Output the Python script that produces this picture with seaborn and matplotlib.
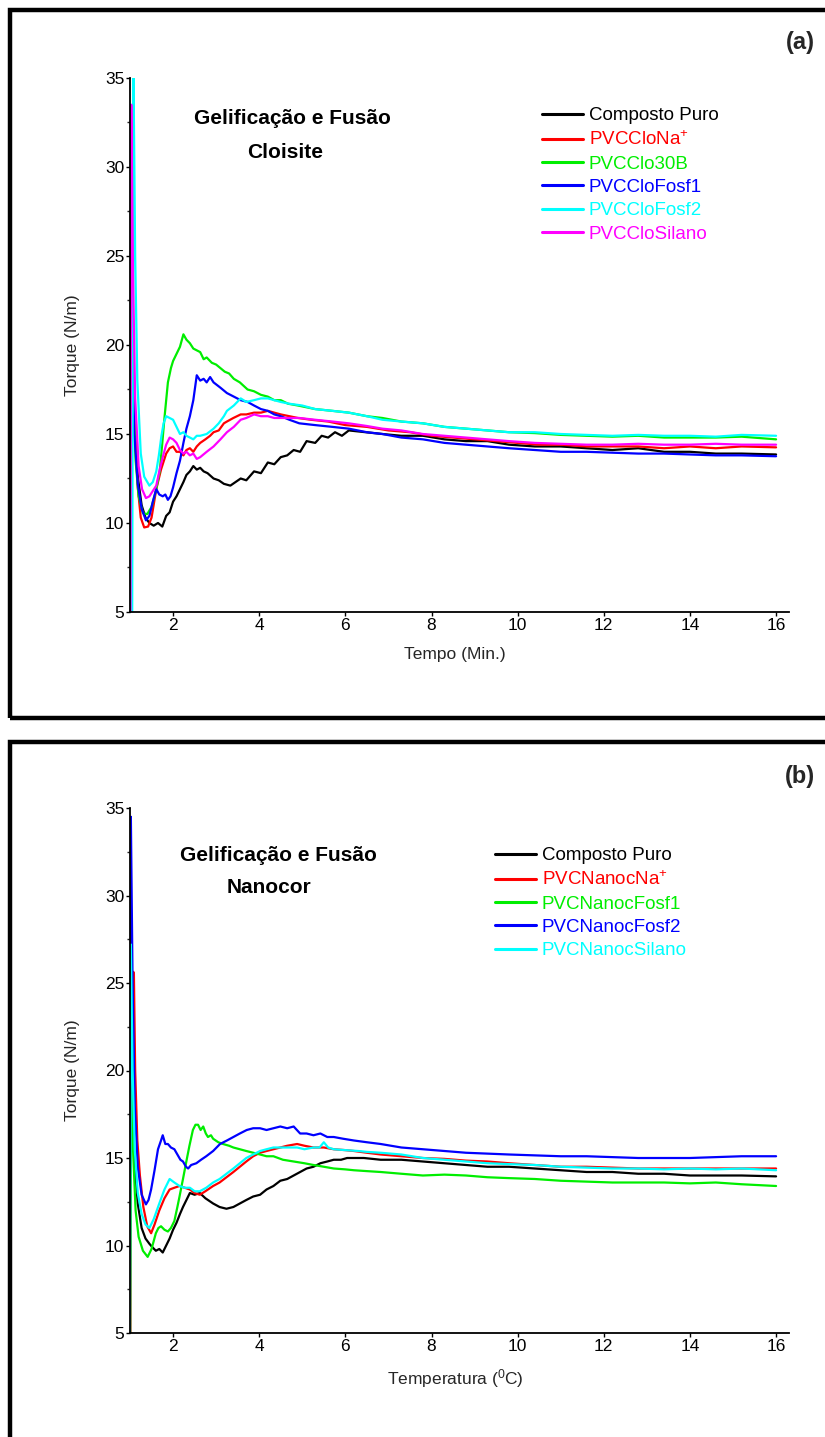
import matplotlib
matplotlib.use("Agg")
import matplotlib.pyplot as plt
import seaborn as sns
import pandas as pd
from matplotlib.patches import Rectangle
from matplotlib.ticker import MultipleLocator

sns.set_style("white")
plt.rcParams["font.family"] = ["Liberation Sans", "DejaVu Sans"]
plt.rcParams["mathtext.fontset"] = "custom"
plt.rcParams["mathtext.rm"] = "Liberation Sans"
plt.rcParams["mathtext.it"] = "Liberation Sans"
plt.rcParams["mathtext.default"] = "regular"

# ---------------- data: panel (a) Cloisite ----------------
a_labels = ["Composto Puro", "PVCCloNa$^{+}$", "PVCClo30B", "PVCCloFosf1", "PVCCloFosf2", "PVCCloSilano"]
a_colors = ["#000000", "#ff0000", "#00ee00", "#0000ff", "#00ffff", "#ff00ff"]

a_puro = [(0.98,4.0),(1.00,27.3),(1.04,21.0),(1.10,15.5),(1.18,12.6),(1.27,11.0),(1.36,10.3),(1.45,10.0),(1.55,9.85),(1.65,10.0),(1.75,9.8),(1.84,10.4),(1.92,10.6),(2.00,11.2),(2.08,11.5),(2.16,11.9),(2.24,12.3),(2.31,12.7),(2.39,12.9),(2.47,13.2),(2.55,13.0),(2.63,13.1),(2.71,12.9),(2.80,12.8),(2.94,12.5),(3.06,12.4),(3.18,12.2),(3.33,12.1),(3.45,12.3),(3.57,12.5),(3.70,12.4),(3.88,12.9),(4.04,12.8),(4.20,13.4),(4.35,13.3),(4.50,13.7),(4.65,13.8),(4.80,14.1),(4.95,14.0),(5.10,14.6),(5.30,14.5),(5.45,14.9),(5.60,14.8),(5.76,15.1),(5.92,14.9),(6.08,15.2),(6.47,15.1),(6.86,15.0),(7.3,14.9),(7.8,14.9),(8.3,14.7),(8.8,14.6),(9.3,14.6),(9.8,14.4),(10.4,14.3),(11.0,14.3),(11.6,14.2),(12.2,14.1),(12.8,14.2),(13.4,14.0),(14.0,14.0),(14.6,13.9),(15.2,13.9),(16.0,13.85)]
a_na = [(0.99,4.0),(1.01,29.5),(1.05,22.0),(1.10,16.0),(1.18,12.0),(1.25,10.3),(1.33,9.75),(1.42,9.8),(1.50,10.3),(1.61,11.9),(1.72,13.0),(1.84,13.9),(1.92,14.2),(2.00,14.3),(2.08,14.0),(2.16,14.0),(2.24,13.8),(2.31,14.1),(2.39,14.2),(2.47,14.0),(2.55,14.3),(2.63,14.5),(2.75,14.7),(2.86,14.9),(2.94,15.1),(3.06,15.2),(3.18,15.6),(3.25,15.7),(3.40,15.9),(3.57,16.1),(3.70,16.1),(3.88,16.2),(4.04,16.2),(4.20,16.3),(4.35,16.2),(4.50,16.1),(4.70,16.0),(4.90,15.9),(5.2,15.8),(5.6,15.7),(6.0,15.5),(6.5,15.4),(7.0,15.2),(7.5,15.1),(8.0,14.9),(8.5,14.8),(9.0,14.7),(9.5,14.6),(10.0,14.5),(10.5,14.4),(11.0,14.4),(11.6,14.3),(12.2,14.3),(12.8,14.3),(13.4,14.2),(14.0,14.3),(14.6,14.2),(15.2,14.3),(16.0,14.25)]
a_30b = [(1.00,4.0),(1.03,25.0),(1.07,18.0),(1.13,13.5),(1.20,11.5),(1.30,10.55),(1.40,10.5),(1.50,10.9),(1.60,11.8),(1.69,12.9),(1.75,14.5),(1.80,15.9),(1.88,17.9),(1.95,18.7),(2.00,19.1),(2.08,19.5),(2.16,19.9),(2.24,20.6),(2.31,20.3),(2.39,20.1),(2.47,19.8),(2.55,19.7),(2.63,19.6),(2.71,19.2),(2.78,19.3),(2.90,19.0),(3.00,18.9),(3.10,18.7),(3.20,18.5),(3.30,18.4),(3.41,18.1),(3.55,17.9),(3.73,17.5),(3.88,17.4),(4.04,17.2),(4.20,17.1),(4.35,16.9),(4.50,16.9),(4.67,16.7),(4.90,16.6),(5.30,16.4),(5.70,16.3),(6.08,16.2),(6.50,16.0),(6.86,15.9),(7.3,15.7),(7.8,15.6),(8.3,15.4),(8.8,15.3),(9.3,15.2),(9.8,15.1),(10.4,15.05),(11.0,14.95),(11.6,14.9),(12.2,14.85),(12.8,14.9),(13.4,14.8),(14.0,14.8),(14.6,14.8),(15.2,14.85),(16.0,14.7)]
a_fosf1 = [(0.99,4.0),(1.01,27.5),(1.05,20.0),(1.10,15.0),(1.18,12.2),(1.27,10.8),(1.37,10.15),(1.45,10.4),(1.53,11.2),(1.61,11.9),(1.68,11.6),(1.76,11.5),(1.82,11.6),(1.88,11.3),(1.94,11.5),(2.00,12.0),(2.08,12.8),(2.16,13.5),(2.24,14.5),(2.31,15.3),(2.39,16.0),(2.47,16.9),(2.55,18.3),(2.63,18.0),(2.71,18.1),(2.78,17.9),(2.86,18.2),(2.94,17.9),(3.10,17.6),(3.25,17.3),(3.41,17.1),(3.57,16.9),(3.73,16.8),(3.88,16.6),(4.04,16.4),(4.20,16.3),(4.35,16.1),(4.50,16.0),(4.70,15.8),(4.93,15.6),(5.30,15.5),(5.70,15.4),(6.08,15.3),(6.5,15.1),(6.86,15.0),(7.3,14.8),(7.8,14.7),(8.3,14.5),(8.8,14.4),(9.3,14.3),(9.8,14.2),(10.4,14.1),(11.0,14.0),(11.6,14.0),(12.2,13.95),(12.8,13.9),(13.4,13.9),(14.0,13.85),(14.6,13.8),(15.2,13.8),(16.0,13.75)]
a_fosf2 = [(1.05,4.0),(1.08,35.5),(1.12,25.0),(1.17,18.0),(1.25,13.9),(1.33,12.6),(1.45,12.1),(1.53,12.3),(1.61,12.9),(1.67,13.8),(1.73,14.9),(1.78,15.6),(1.84,16.0),(1.92,15.9),(2.00,15.8),(2.08,15.4),(2.16,15.0),(2.24,15.1),(2.31,14.9),(2.39,14.8),(2.47,14.7),(2.55,14.9),(2.63,14.9),(2.78,15.0),(2.94,15.3),(3.06,15.6),(3.18,16.0),(3.25,16.3),(3.41,16.6),(3.57,17.0),(3.70,16.8),(3.88,16.9),(4.04,17.0),(4.20,17.0),(4.35,16.9),(4.50,16.8),(4.70,16.7),(5.00,16.6),(5.30,16.4),(5.70,16.3),(6.08,16.2),(6.50,16.0),(6.86,15.8),(7.3,15.7),(7.8,15.6),(8.3,15.4),(8.8,15.3),(9.3,15.2),(9.8,15.1),(10.4,15.1),(11.0,15.0),(11.6,14.95),(12.2,14.9),(12.8,14.95),(13.4,14.9),(14.0,14.9),(14.6,14.85),(15.2,14.95),(16.0,14.9)]
a_silano = [(1.01,4.0),(1.03,33.5),(1.07,24.0),(1.12,17.0),(1.20,13.2),(1.28,11.9),(1.37,11.4),(1.45,11.5),(1.53,11.8),(1.61,12.1),(1.68,12.9),(1.76,13.7),(1.84,14.4),(1.92,14.8),(2.00,14.7),(2.08,14.5),(2.16,14.1),(2.24,13.9),(2.31,14.0),(2.39,13.8),(2.47,13.9),(2.55,13.6),(2.63,13.7),(2.78,14.0),(2.94,14.3),(3.10,14.7),(3.25,15.1),(3.41,15.4),(3.57,15.8),(3.70,15.9),(3.88,16.1),(4.04,16.0),(4.20,16.0),(4.35,15.9),(4.50,15.9),(4.70,15.9),(4.93,15.9),(5.30,15.8),(5.70,15.7),(6.08,15.6),(6.5,15.45),(6.86,15.3),(7.3,15.2),(7.8,15.0),(8.3,14.9),(8.8,14.8),(9.3,14.7),(9.8,14.6),(10.4,14.5),(11.0,14.45),(11.6,14.4),(12.2,14.4),(12.8,14.45),(13.4,14.4),(14.0,14.4),(14.6,14.45),(15.2,14.4),(16.0,14.4)]

# ---------------- data: panel (b) Nanocor ----------------
b_labels = ["Composto Puro", "PVCNanocNa$^{+}$", "PVCNanocFosf1", "PVCNanocFosf2", "PVCNanocSilano"]
b_colors = ["#000000", "#ff0000", "#00ee00", "#0000ff", "#00ffff"]

b_puro = [(0.98,4.0),(1.00,27.0),(1.04,20.0),(1.10,15.0),(1.18,12.4),(1.27,11.0),(1.36,10.4),(1.45,10.1),(1.52,9.9),(1.60,9.7),(1.68,9.8),(1.76,9.6),(1.84,10.0),(1.92,10.4),(2.00,10.9),(2.08,11.3),(2.16,11.8),(2.23,12.2),(2.31,12.6),(2.39,13.0),(2.50,12.9),(2.62,13.0),(2.75,12.7),(2.93,12.4),(3.08,12.2),(3.24,12.1),(3.40,12.2),(3.55,12.4),(3.70,12.6),(3.86,12.8),(4.02,12.9),(4.17,13.2),(4.33,13.4),(4.49,13.7),(4.65,13.8),(4.80,14.0),(4.95,14.2),(5.10,14.4),(5.26,14.5),(5.42,14.7),(5.58,14.8),(5.73,14.9),(5.90,14.9),(6.04,15.0),(6.43,15.0),(6.82,14.9),(7.3,14.9),(7.8,14.8),(8.3,14.7),(8.8,14.6),(9.3,14.5),(9.8,14.5),(10.4,14.4),(11.0,14.3),(11.6,14.2),(12.2,14.2),(12.8,14.1),(13.4,14.1),(14.0,14.0),(14.6,14.0),(15.2,14.0),(16.0,13.95)]
b_na = [(1.01,4.0),(1.03,25.7),(1.09,25.6),(1.12,20.0),(1.17,16.0),(1.23,14.0),(1.31,12.2),(1.40,11.1),(1.49,10.7),(1.57,11.2),(1.68,12.0),(1.80,12.7),(1.92,13.2),(2.03,13.3),(2.15,13.4),(2.27,13.3),(2.39,13.2),(2.50,13.0),(2.62,12.9),(2.75,13.1),(2.93,13.4),(3.08,13.6),(3.24,13.9),(3.40,14.2),(3.55,14.5),(3.70,14.8),(3.86,15.1),(4.02,15.3),(4.17,15.4),(4.33,15.5),(4.49,15.6),(4.65,15.7),(4.88,15.8),(5.05,15.7),(5.26,15.6),(5.50,15.6),(5.73,15.5),(6.0,15.45),(6.2,15.4),(6.5,15.3),(6.82,15.2),(7.3,15.1),(7.8,15.0),(8.3,14.95),(8.8,14.85),(9.3,14.8),(9.8,14.7),(10.4,14.6),(11.0,14.5),(11.6,14.5),(12.2,14.45),(12.8,14.4),(13.4,14.4),(14.0,14.4),(14.6,14.4),(15.2,14.4),(16.0,14.4)]
b_fosf1 = [(1.00,4.0),(1.03,20.5),(1.07,15.5),(1.13,12.0),(1.20,10.5),(1.30,9.7),(1.41,9.35),(1.50,9.8),(1.60,10.7),(1.66,11.0),(1.72,11.1),(1.80,10.9),(1.88,10.8),(1.95,11.0),(2.03,11.4),(2.10,12.2),(2.15,12.8),(2.23,13.8),(2.30,14.7),(2.38,15.7),(2.46,16.6),(2.52,16.9),(2.58,16.9),(2.64,16.6),(2.70,16.8),(2.76,16.4),(2.81,16.2),(2.88,16.3),(2.93,16.1),(3.05,15.9),(3.16,15.8),(3.30,15.7),(3.40,15.6),(3.55,15.5),(3.70,15.4),(3.86,15.3),(4.02,15.2),(4.17,15.1),(4.33,15.1),(4.55,14.9),(4.80,14.8),(5.05,14.7),(5.26,14.6),(5.50,14.5),(5.73,14.4),(6.0,14.35),(6.2,14.3),(6.5,14.25),(6.82,14.2),(7.3,14.1),(7.8,14.0),(8.3,14.05),(8.8,14.0),(9.3,13.9),(9.8,13.85),(10.4,13.8),(11.0,13.7),(11.6,13.65),(12.2,13.6),(12.8,13.6),(13.4,13.6),(14.0,13.55),(14.6,13.6),(15.2,13.5),(16.0,13.4)]
b_fosf2 = [(0.99,4.0),(1.02,34.5),(1.06,25.0),(1.11,18.0),(1.18,14.5),(1.27,12.9),(1.37,12.35),(1.43,12.6),(1.49,13.2),(1.57,14.3),(1.65,15.5),(1.72,16.0),(1.76,16.3),(1.82,15.8),(1.88,15.8),(1.95,15.6),(2.03,15.5),(2.10,15.2),(2.17,14.9),(2.23,14.8),(2.30,14.5),(2.35,14.4),(2.42,14.6),(2.54,14.7),(2.65,14.9),(2.77,15.1),(2.93,15.4),(3.09,15.8),(3.25,16.0),(3.40,16.2),(3.55,16.4),(3.71,16.6),(3.86,16.7),(4.02,16.7),(4.17,16.6),(4.33,16.7),(4.49,16.8),(4.65,16.7),(4.80,16.8),(4.95,16.4),(5.10,16.4),(5.26,16.3),(5.42,16.4),(5.58,16.2),(5.73,16.2),(5.95,16.1),(6.2,16.0),(6.5,15.9),(6.82,15.8),(7.3,15.6),(7.8,15.5),(8.3,15.4),(8.8,15.3),(9.3,15.25),(9.8,15.2),(10.4,15.15),(11.0,15.1),(11.6,15.1),(12.2,15.05),(12.8,15.0),(13.4,15.0),(14.0,15.0),(14.6,15.05),(15.2,15.1),(16.0,15.1)]
b_silano = [(1.00,4.0),(1.02,27.2),(1.06,20.0),(1.11,15.5),(1.18,13.0),(1.27,11.8),(1.36,11.2),(1.45,11.0),(1.55,11.5),(1.68,12.4),(1.80,13.2),(1.92,13.8),(2.03,13.6),(2.15,13.4),(2.27,13.3),(2.39,13.3),(2.50,13.1),(2.62,13.1),(2.77,13.3),(2.93,13.6),(3.08,13.8),(3.24,14.1),(3.40,14.4),(3.55,14.7),(3.70,15.0),(3.86,15.2),(4.02,15.4),(4.17,15.5),(4.33,15.6),(4.49,15.6),(4.70,15.6),(4.88,15.6),(5.05,15.5),(5.26,15.6),(5.40,15.6),(5.50,15.9),(5.60,15.6),(5.73,15.5),(6.0,15.45),(6.3,15.4),(6.5,15.35),(6.82,15.3),(7.3,15.2),(7.8,15.0),(8.3,14.9),(8.8,14.8),(9.3,14.7),(9.8,14.65),(10.4,14.6),(11.0,14.5),(11.6,14.45),(12.2,14.4),(12.8,14.4),(13.4,14.35),(14.0,14.4),(14.6,14.35),(15.2,14.4),(16.0,14.3)]

x_ticks = [2, 4, 6, 8, 10, 12, 14, 16]
y_ticks = [5, 10, 15, 20, 25, 30, 35]


def build_df(labels, series):
    rows = []
    for name, pts in zip(labels, series):
        for i, (t, v) in enumerate(pts):
            rows.append({"serie": name, "t": t, "torque": v, "ord": i})
    return pd.DataFrame(rows)


W, H = 825, 1437
fig = plt.figure(figsize=(W / 100, H / 100), dpi=100)
fig.patch.set_facecolor("white")

# panel frames
fig.patches.append(Rectangle((10 / W, 1 - 718 / H), 1.2, (718 - 10) / H,
                             transform=fig.transFigure, fill=False, lw=3.2,
                             edgecolor="black", clip_on=False))
fig.patches.append(Rectangle((10 / W, -0.2), 1.2, (1 - 742 / H) + 0.2,
                             transform=fig.transFigure, fill=False, lw=3.2,
                             edgecolor="black", clip_on=False))


def style_axes(ax):
    ax.set_xlim(1, 16.3)
    ax.set_ylim(5, 35)
    ax.set_xticks(x_ticks)
    ax.set_yticks(y_ticks)
    ax.yaxis.set_minor_locator(MultipleLocator(2.5))
    for s in ["top", "right"]:
        ax.spines[s].set_visible(False)
    for s in ["left", "bottom"]:
        ax.spines[s].set_color("black")
        ax.spines[s].set_linewidth(1.3)
    ax.tick_params(axis="both", which="major", direction="out", length=3,
                   width=1, pad=1, labelsize=12.5, colors="black", left=True, bottom=True)
    ax.tick_params(axis="y", which="minor", direction="out", length=2, width=1, left=True)
    ax.set_facecolor("white")


panels = [
    dict(labels=a_labels, colors=a_colors, series=[a_puro, a_na, a_30b, a_fosf1, a_fosf2, a_silano],
         rect=[130 / W, 1 - 612 / H, 659 / W, 534 / H], xlabel="Tempo (Min.)",
         title1=("Gelificação e Fusão", 0.247, 0.925), title2=("Cloisite", 0.235, 0.861),
         leg=(0.625, 0.945), tag=("(a)", 42)),
    dict(labels=b_labels, colors=b_colors, series=[b_puro, b_na, b_fosf1, b_fosf2, b_silano],
         rect=[130 / W, 1 - 1333 / H, 659 / W, 525 / H], xlabel="Temperatura ($^{0}$C)",
         title1=("Gelificação e Fusão", 0.225, 0.909), title2=("Nanocor", 0.211, 0.848),
         leg=(0.554, 0.925), tag=("(b)", 776)),
]

for p in panels:
    ax = fig.add_axes(p["rect"])
    df = build_df(p["labels"], p["series"])
    sns.lineplot(data=df, x="t", y="torque", hue="serie", hue_order=p["labels"],
                 palette=dict(zip(p["labels"], p["colors"])), estimator=None,
                 sort=False, lw=1.6, ax=ax, legend=True)
    style_axes(ax)
    ax.set_xlabel(p["xlabel"], fontsize=12.5)
    ax.set_ylabel("Torque (N/m)", fontsize=12.5)
    ax.xaxis.set_label_coords(0.493, -0.065)
    ax.yaxis.set_label_coords(-0.076, 0.5)
    leg = ax.legend(loc="upper left", bbox_to_anchor=p["leg"], frameon=False,
                    fontsize=13.5, handlelength=2.2, handletextpad=0.3,
                    labelspacing=0.33, borderpad=0, borderaxespad=0,
                    labelcolor="linecolor")
    for h in leg.legend_handles:
        h.set_linewidth(2.2)
    for txt, xx, yy in (p["title1"], p["title2"]):
        ax.text(xx, yy, txt, transform=ax.transAxes, ha="center", va="center",
                fontsize=15, fontweight="bold", color="black")
    tag, ty = p["tag"]
    fig.text(800 / W, 1 - ty / H, tag, ha="center", va="center",
             fontsize=17, fontweight="bold")

fig.savefig("out.png", dpi=100, facecolor="white")
